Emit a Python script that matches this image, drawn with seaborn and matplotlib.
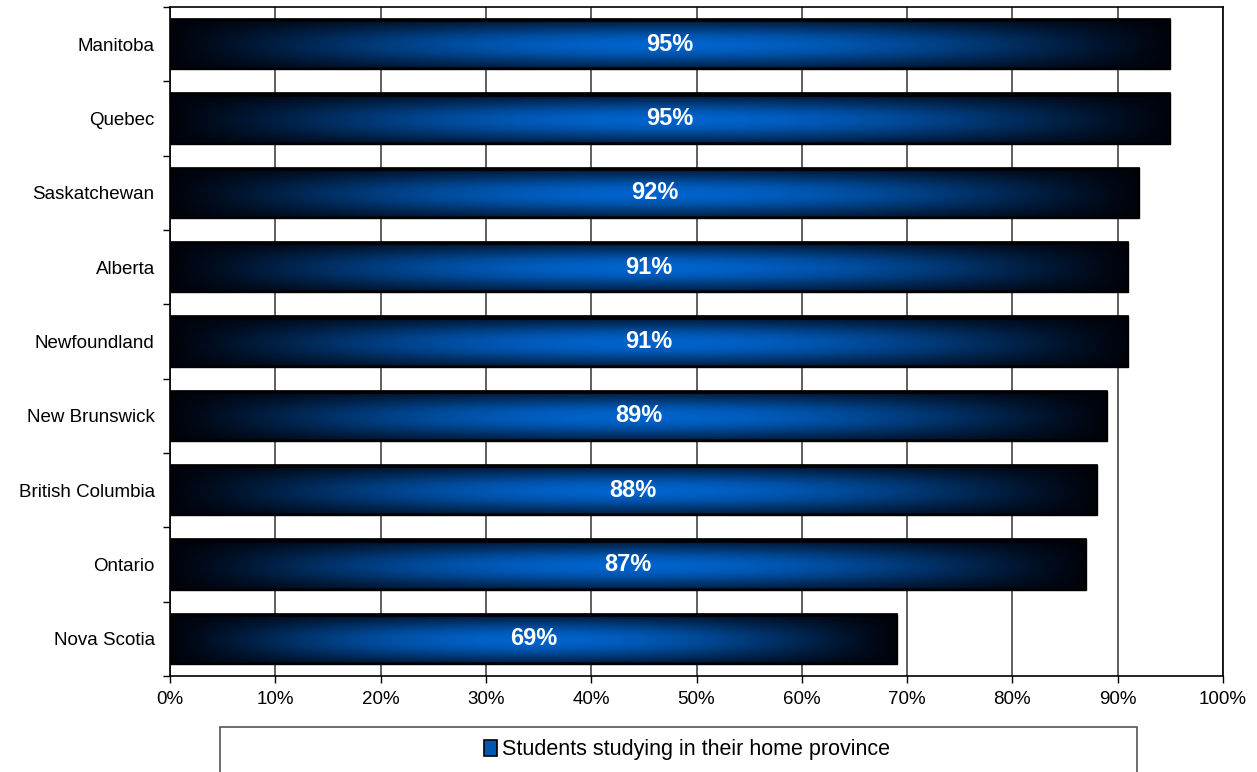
import numpy as np
import pandas as pd
import matplotlib
matplotlib.use("Agg")
import matplotlib.pyplot as plt
import seaborn as sns
from matplotlib.patches import Rectangle

provinces = ["Manitoba", "Quebec", "Saskatchewan", "Alberta", "Newfoundland",
             "New Brunswick", "British Columbia", "Ontario", "Nova Scotia"]
values = [95, 95, 92, 91, 91, 89, 88, 87, 69]
series_name = "Students studying in their home province"
xticks = [0, 10, 20, 30, 40, 50, 60, 70, 80, 90, 100]

sns.set_theme(style="white")
plt.rcParams['font.family'] = ['Liberation Sans', 'DejaVu Sans']
plt.rcParams['text.color'] = 'black'
plt.rcParams['xtick.color'] = 'black'
plt.rcParams['ytick.color'] = 'black'

fig = plt.figure(figsize=(12.57, 7.72), dpi=100)
ax = fig.add_axes([170/1257, 1-676/772, (1223-170)/1257, (676-7)/772])

df = pd.DataFrame({"province": provinces, "value": values})
sns.barplot(data=df, x="value", y="province", orient="h", ax=ax,
            color="#0058b0", width=0.68, edgecolor="black", linewidth=1.0,
            saturation=1, zorder=2)

# gradient texture
nx, ny = 400, 50
xs = np.linspace(0, 1, nx)
ys = np.linspace(0, 1, ny)
hx = np.sin(np.pi * xs) ** 1.1
vy = 0.35 + 0.65 * np.sin(np.pi * np.clip((ys - 0.08) / 0.9, 0, 1)) ** 1.2
vy[:4] = 0.0
vy[-2:] = 0.1
intensity = vy[:, None] * hx[None, :]
base = np.array([0.0, 0.39, 0.80])
dark = np.array([0.0, 0.01, 0.04])
img = dark[None, None, :] + (base - dark)[None, None, :] * intensity[:, :, None]

for p in list(ax.patches):
    x0, y0 = p.get_x(), p.get_y()
    w, h = p.get_width(), p.get_height()
    im = ax.imshow(img, extent=[x0, x0 + w, y0 + h, y0], aspect="auto",
                   interpolation="bilinear", zorder=3)
    im.set_clip_path(p)
    edge = Rectangle((x0, y0), w, h, fill=False, edgecolor="black",
                     linewidth=1.2, zorder=4)
    ax.add_patch(edge)

for i, v in enumerate(values):
    ax.text(v / 2, i, f"{v}%", color="white", fontsize=17, fontweight="bold",
            ha="center", va="center", zorder=5)

ax.set_xlim(0, 100)
ax.set_ylim(len(provinces) - 0.5, -0.5)
ax.set_xticks(xticks)
ax.set_xticklabels([f"{t}%" for t in xticks], fontsize=13.5)
ax.set_yticks(range(len(provinces)))
ax.set_yticklabels(provinces, fontsize=13.5)
ax.set_yticks(np.arange(-0.5, len(provinces), 1), minor=True)
ax.tick_params(axis="y", which="major", length=0, pad=11)
ax.tick_params(axis="y", which="minor", length=5, width=1, color="black", left=True)
ax.tick_params(axis="x", which="major", length=5, width=1, color="black", bottom=True, pad=6)
ax.set_xlabel("")
ax.set_ylabel("")
ax.xaxis.grid(True, color="#444444", linewidth=1.2, zorder=0)
ax.set_axisbelow(True)
for s in ax.spines.values():
    s.set_visible(True)
    s.set_color("black")
    s.set_linewidth(1.2)

# legend frame (extends beyond the bottom edge like the reference)
frame = Rectangle((220/1257, -0.02), (1137-220)/1257, 1-727/772 + 0.02,
                  transform=fig.transFigure, facecolor="white",
                  edgecolor="#555555", linewidth=1.2, zorder=1)
fig.add_artist(frame)
handle = Rectangle((0, 0), 1, 1, facecolor="#0058b0", edgecolor="black", linewidth=1.2)
leg = fig.legend([handle], [series_name], loc="center",
                 bbox_to_anchor=(687/1257, 1-750/772),
                 bbox_transform=fig.transFigure,
                 fontsize=15.5, frameon=False,
                 handlelength=0.6, handleheight=0.8,
                 handletextpad=0.2, borderpad=0, borderaxespad=0)
leg.set_zorder(2)

fig.savefig("out.png", dpi=100)
